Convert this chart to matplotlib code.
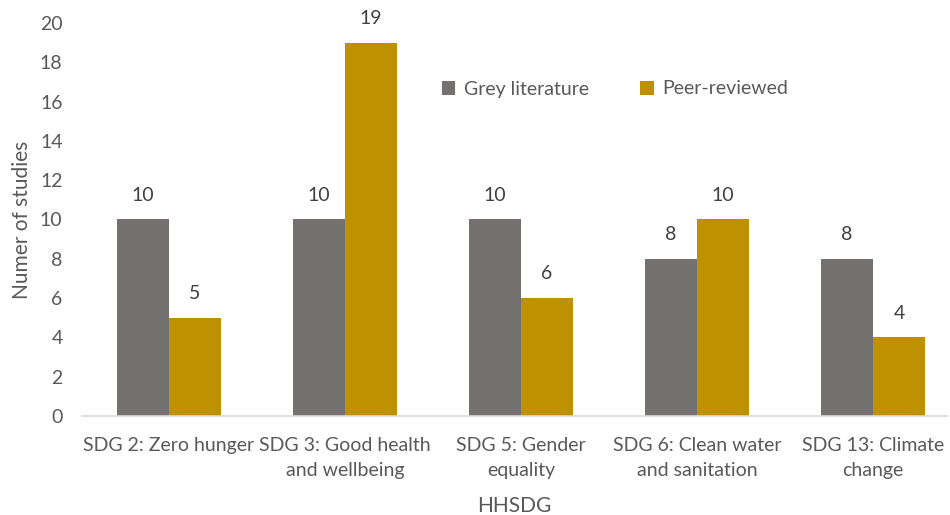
import numpy as np
import matplotlib.pyplot as plt

plt.rcParams['font.family'] = ['Lato', 'DejaVu Sans']

# data
categories = ['SDG 2: Zero hunger', 'SDG 3: Good health\nand wellbeing',
              'SDG 5: Gender\nequality', 'SDG 6: Clean water\nand sanitation',
              'SDG 13: Climate\nchange']
grey_lit = [10, 10, 10, 8, 8]
peer_rev = [5, 19, 6, 10, 4]
series_names = ['Grey literature', 'Peer-reviewed']

grey_col = '#767171'
gold_col = '#BF9000'
txt_col = '#595959'

fig = plt.figure(figsize=(9.5, 5.15), dpi=100)
ax = fig.add_axes([82/950, 1 - 416/515, 865/950, (416 - 23)/515])

x = np.arange(len(categories))
w = 0.295
b1 = ax.bar(x - w/2, grey_lit, w, color=grey_col, label=series_names[0])
b2 = ax.bar(x + w/2, peer_rev, w, color=gold_col, label=series_names[1])

for bars in (b1, b2):
    for r in bars:
        ax.text(r.get_x() + r.get_width()/2, r.get_height() + 0.8, f'{int(r.get_height())}',
                ha='center', va='bottom', fontsize=14, color='#404040')

ax.set_xlim(-87/176, (947 - 169)/176)
ax.set_ylim(0, 20)
ax.set_yticks(range(0, 21, 2))
ax.set_xticks(x)
ax.set_xticklabels(categories, fontsize=14, color=txt_col, linespacing=1.6)
ax.tick_params(axis='y', labelsize=14, labelcolor=txt_col, length=0, pad=14)
ax.tick_params(axis='x', length=0, pad=15)
for s in ['top', 'right', 'left']:
    ax.spines[s].set_visible(False)
ax.spines['bottom'].set_color('#d9d9d9')
ax.spines['bottom'].set_linewidth(1.2)

ax.set_ylabel('Numer of studies', fontsize=15, color=txt_col, labelpad=6)
ax.set_xlabel('HHSDG', fontsize=15, color=txt_col, labelpad=12)

ax.legend(ncol=2, frameon=False, fontsize=14, labelcolor=txt_col,
          handlelength=0.7, handleheight=0.7, handletextpad=0.45, columnspacing=2.6,
          loc='center', bbox_to_anchor=((615 - 82)/865, (416 - 89)/393))

fig.savefig('out.png', dpi=100)
